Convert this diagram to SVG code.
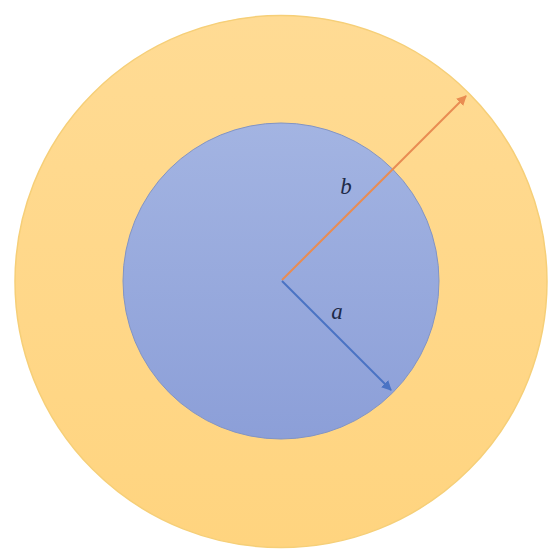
<svg xmlns="http://www.w3.org/2000/svg" width="554" height="550" viewBox="0 0 554 550">
<defs>
<linearGradient id="gin" x1="0" y1="0" x2="0" y2="1">
<stop offset="0" stop-color="#a3b4e2"/>
<stop offset="1" stop-color="#8c9fd8"/>
</linearGradient>
<linearGradient id="gout" x1="0" y1="0" x2="0" y2="1">
<stop offset="0" stop-color="#ffdb94"/>
<stop offset="1" stop-color="#ffd47f"/>
</linearGradient>
<marker id="ao" viewBox="0 0 10 10" refX="9" refY="5" markerWidth="5" markerHeight="5" orient="auto" markerUnits="strokeWidth">
<path d="M0,0 L10,5 L0,10 Z" fill="#e98c52"/>
</marker>
<marker id="ab" viewBox="0 0 10 10" refX="9" refY="5" markerWidth="5" markerHeight="5" orient="auto" markerUnits="strokeWidth">
<path d="M0,0 L10,5 L0,10 Z" fill="#4a73c4"/>
</marker>
</defs>
<style>
.lbl{font-family:"Liberation Serif","DejaVu Serif",serif;font-style:italic;font-size:23px;fill:#1e2a48}
</style>
<rect width="554" height="550" fill="#ffffff"/>
<g id="outer">
<circle cx="281" cy="281.5" r="266" fill="url(#gout)" stroke="#f6cf78" stroke-width="1.5"/>
</g>
<g id="inner">
<circle cx="281" cy="281" r="158" fill="url(#gin)" stroke="#8294c4" stroke-width="1"/>
</g>
<g id="connectors">
<line x1="282" y1="280" x2="466" y2="96" stroke="#e98c52" stroke-width="2" marker-end="url(#ao)"/>
<line x1="282" y1="281" x2="391" y2="390" stroke="#4a73c4" stroke-width="2" marker-end="url(#ab)"/>
</g>
<g id="labels">
<text class="lbl" x="346" y="194" text-anchor="middle">b</text>
<text class="lbl" x="337" y="319" text-anchor="middle">a</text>
</g>
</svg>
